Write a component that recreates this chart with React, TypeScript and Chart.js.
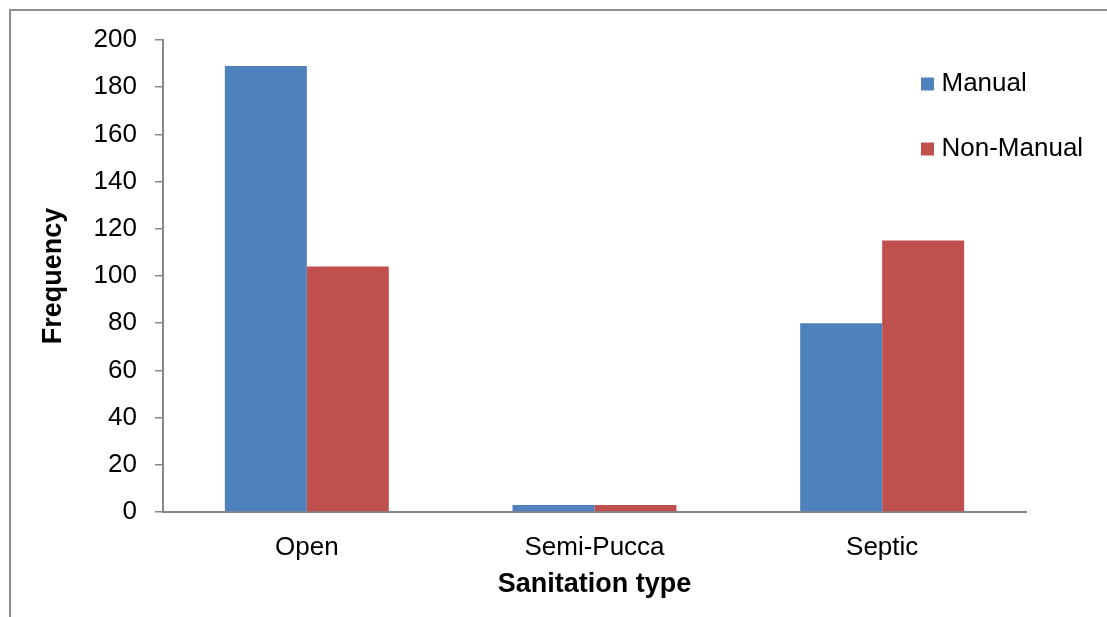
import React, { useEffect, useRef } from "react";
import { Chart, registerables } from "chart.js";

Chart.register(...registerables);

const categories = ["Open", "Semi-Pucca", "Septic"];
const manualValues = [189, 3, 80];
const nonManualValues = [104, 3, 115];
const seriesLabels = ["Manual", "Non-Manual"];
const yTicks = [0, 20, 40, 60, 80, 100, 120, 140, 160, 180, 200];

const BLUE = "#4F81BD";
const RED = "#C0504D";
const AXIS = "#878787";
const FONT = "'Liberation Sans', Arial, sans-serif";

const legendPlugin = {
  id: "customLegend",
  afterDraw(chart: any) {
    const ctx = chart.ctx;
    const ds = chart.data.datasets;
    ctx.save();
    ctx.font = `26px ${FONT}`;
    ctx.textBaseline = "middle";
    ctx.textAlign = "left";
    const x0 = 921;
    const yCenters = [84, 149];
    ds.forEach((d: any, i: number) => {
      const yc = yCenters[i];
      ctx.fillStyle = d.backgroundColor;
      ctx.fillRect(x0, yc - 6.5, 13, 13);
      ctx.fillStyle = "#000";
      ctx.fillText(d.label, x0 + 20.5, yc);
    });
    ctx.restore();
  },
};

export default function App() {
  const ref = useRef<HTMLCanvasElement | null>(null);

  useEffect(() => {
    if (!ref.current) return;
    const chart = new Chart(ref.current, {
      type: "bar",
      data: {
        labels: categories,
        datasets: [
          {
            label: seriesLabels[0],
            data: manualValues,
            backgroundColor: BLUE,
            borderWidth: 0,
            categoryPercentage: 0.57,
            barPercentage: 1,
          },
          {
            label: seriesLabels[1],
            data: nonManualValues,
            backgroundColor: RED,
            borderWidth: 0,
            categoryPercentage: 0.57,
            barPercentage: 1,
          },
        ],
      },
      options: {
        responsive: false,
        animation: false,
        devicePixelRatio: 1,
        layout: { padding: { left: 10, top: 40, right: 81, bottom: 13.8 } },
        plugins: {
          legend: { display: false },
          tooltip: { enabled: false },
        },
        scales: {
          x: {
            grid: { display: false, drawTicks: false },
            border: { display: true, color: AXIS, width: 2 },
            ticks: {
              color: "#000",
              font: { family: FONT, size: 26 },
              padding: 20,
              maxRotation: 0,
            },
            title: {
              display: true,
              text: "Sanitation type",
              color: "#000",
              font: { family: FONT, size: 27, weight: "bold" },
              padding: { top: 0, bottom: 2 },
            },
            afterFit: (scale: any) => {
              scale.height = 91.2;
            },
          },
          y: {
            min: 0,
            max: 200,
            afterBuildTicks: (scale: any) => {
              scale.ticks = yTicks.map((v) => ({ value: v }));
            },
            grid: {
              display: true,
              drawOnChartArea: false,
              drawTicks: true,
              tickLength: 8,
              color: AXIS,
              lineWidth: 1.5,
            },
            border: { display: true, color: AXIS, width: 2 },
            ticks: {
              color: "#000",
              font: { family: FONT, size: 26 },
              padding: 18,
            },
            title: {
              display: true,
              text: "Frequency",
              color: "#000",
              font: { family: FONT, size: 27, weight: "bold" },
              padding: { top: 27.8, bottom: 6 },
            },
            afterFit: (scale: any) => {
              scale.width = 153;
            },
          },
        },
      },
      plugins: [legendPlugin],
    });
    return () => chart.destroy();
  }, []);

  return (
    <div
      style={{
        position: "fixed",
        left: 0,
        top: 0,
        width: 1107,
        height: 617,
        overflow: "hidden",
        background: "#fff",
      }}
    >
      <div
        style={{
          position: "absolute",
          left: 9,
          top: 9,
          width: 1200,
          height: 700,
          borderLeft: "2px solid #8e8e8e",
          borderTop: "2px solid #8e8e8e",
        }}
      />
      <canvas
        ref={ref}
        width={1107}
        height={617}
        style={{ position: "absolute", left: 0, top: 0 }}
      />
    </div>
  );
}
